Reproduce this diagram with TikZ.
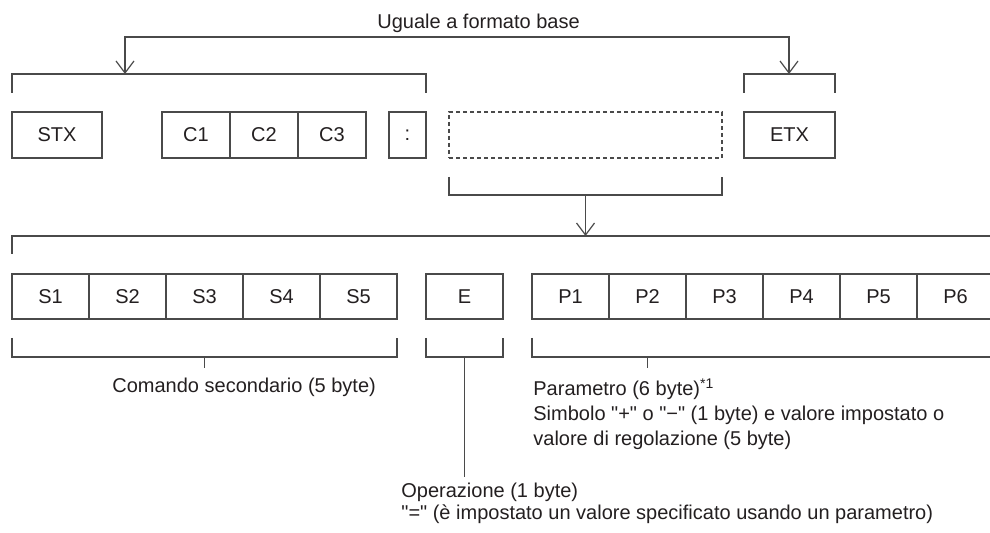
\documentclass[tikz,border=0pt]{standalone}
\usepackage{fontspec}
\setmainfont{Liberation Sans}[Ligatures=TeXOff]
\usepackage{xcolor}
\usetikzlibrary{arrows.meta, positioning, calc}

\definecolor{linegray}{HTML}{4A4A4A}
\definecolor{inkgray}{HTML}{231F20}

\begin{document}
\begin{tikzpicture}[
  x=0.5pt, y=-0.5pt,
  cell/.style={draw=linegray, line width=0.6pt, minimum height=23pt, inner sep=0pt, outer sep=0pt, font=\fontsize{10pt}{12pt}\selectfont, text=inkgray},
  slot/.style={cell, minimum width=38.5pt, minimum height=22.5pt},
  brk/.style={draw=linegray, line width=0.6pt},
  arr/.style={brk, -{Straight Barb[length=6pt, width=9pt]}},
  twoway/.style={brk, {Straight Barb[length=6pt, width=9pt]}-{Straight Barb[length=6pt, width=9pt]}},
  lbl/.style={font=\fontsize{10pt}{12.5pt}\selectfont, text=inkgray, inner sep=0pt, align=left},
]
\useasboundingbox (0,0) rectangle (990,533);
\clip (0,0) rectangle (990,533);

% Basic format
\node[cell, minimum width=45pt] (stx) at (57,135) {STX};
\node[cell, minimum width=34pt] (c1) at (196,135) {C1};
\node[cell, minimum width=34pt] (c2) at (264,135) {C2};
\node[cell, minimum width=34pt] (c3) at (332,135) {C3};
\node[cell, minimum width=18.5pt] (colon) at (407.5,135) {:};
\node[cell, dash pattern=on 2pt off 1.5pt, minimum width=136.5pt] (param) at (585.5,135) {};
\node[cell, minimum width=45.5pt] (etx) at (789.5,135) {ETX};

% Sub command
\node[slot] (s1) at (50.5,296.5) {S1};
\node[slot] (s2) at (127.5,296.5) {S2};
\node[slot] (s3) at (204.5,296.5) {S3};
\node[slot] (s4) at (281.5,296.5) {S4};
\node[slot] (s5) at (358.5,296.5) {S5};
% Operation
\node[slot] (e) at (464.5,296.5) {E};
% Parameter
\node[slot] (p1) at (570.5,296.5) {P1};
\node[slot] (p2) at (647.5,296.5) {P2};
\node[slot] (p3) at (724.5,296.5) {P3};
\node[slot] (p4) at (801.5,296.5) {P4};
\node[slot] (p5) at (878.5,296.5) {P5};
\node[slot] (p6) at (955.5,296.5) {P6};

% Labels
\node[lbl, anchor=base west] (fmtlbl) at (377,29) {Uguale a formato base};
\node[lbl, anchor=base west] (cmdlbl) at (112,393) {Comando secondario (5 byte)};
\node[lbl, anchor=north west] (parlbl) at (533,378) {Parametro (6 byte)\textsuperscript{*1}\\Simbolo "+" o "−" (1 byte) e valore impostato o\\valore di regolazione (5 byte)};
\node[lbl, anchor=north west, font=\fontsize{10pt}{11pt}\selectfont] (oplbl) at (401,483) {Operazione (1 byte)\\"=" (è impostato un valore specificato usando un parametro)};

% Brackets
\draw[brk] ($(stx.north west)+(0,-19)$) -- ++(0,-19) -| ($(colon.north east)+(0,-19)$);
\draw[brk] ($(etx.north west)+(0,-19)$) -- ++(0,-19) -| ($(etx.north east)+(0,-19)$);
\draw[brk] ($(param.south west)+(0,19)$) -- ++(0,18) -| ($(param.south east)+(0,19)$);
\draw[brk] ($(s1.north west)+(0,-20)$) -- ++(0,-18) -| ($(p6.north east)+(0,-20)$);
\draw[brk] ($(s1.south west)+(0,19)$) -- ++(0,19) -| ($(s5.south east)+(0,19)$);
\draw[brk] ($(e.south west)+(0,19)$) -- ++(0,19) -| ($(e.south east)+(0,19)$);
\draw[brk] ($(p1.south west)+(0,19)$) -- ++(0,19) -| ($(p6.south east)+(0,19)$);

% Connectors
\coordinate (fmtL) at (125,74);
\coordinate (fmtR) at (789,74);
\coordinate (fmtT) at (457,37);
\draw[twoway] (fmtL) |- (fmtT) -| (fmtR);
\draw[arr] ($(param.south)+(0,37)$) -- ($(param.south)+(0,78)$);
\draw[brk] ($(s3.south)+(0,38)$) -- ++(0,11);
\draw[brk] ($(p2.south)+(0,38)$) -- ++(0,11);
\draw[brk] ($(e.south)+(0,38)$) -- ++(0,120);
\end{tikzpicture}
\end{document}
